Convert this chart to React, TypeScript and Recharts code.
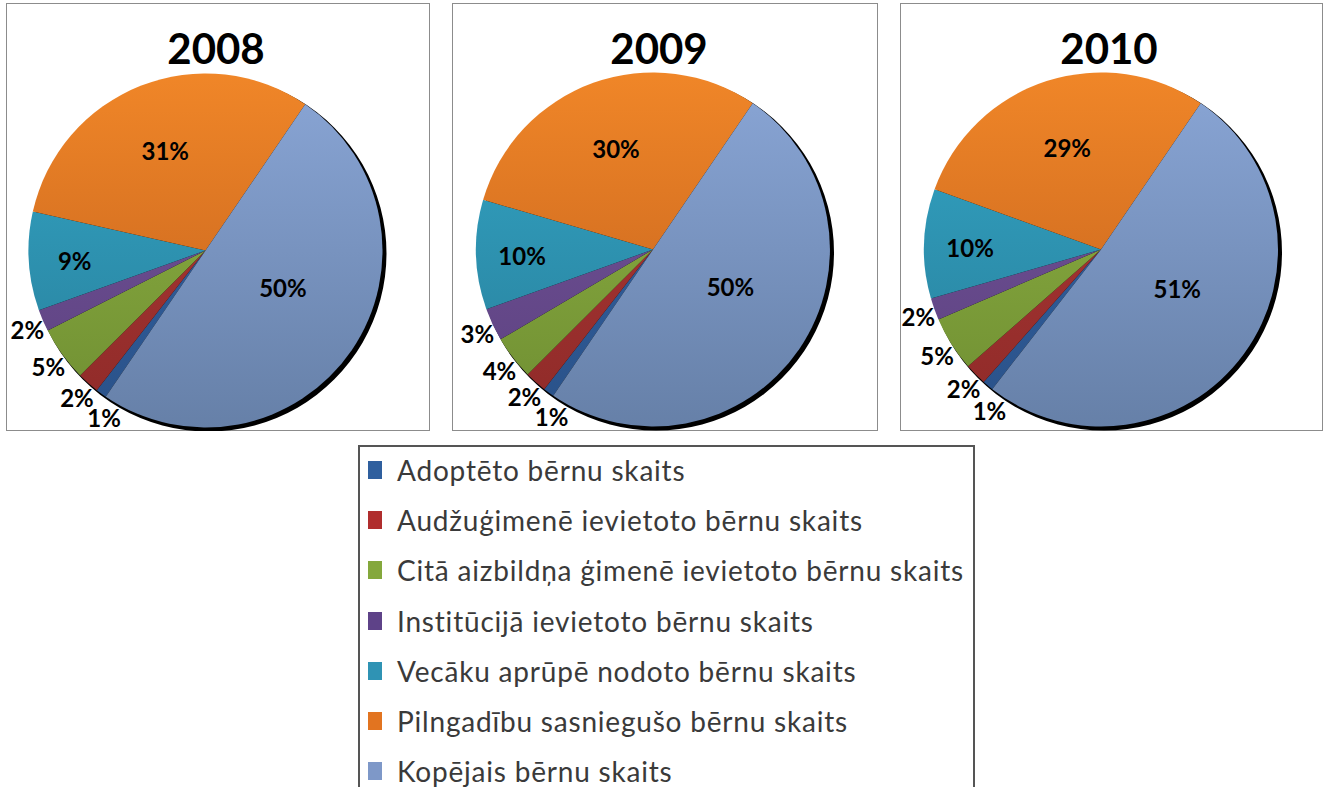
import React from 'react';
import { PieChart, Pie, Cell } from 'recharts';

const categories = [
  'Adoptēto bērnu skaits',
  'Audžuģimenē ievietoto bērnu skaits',
  'Citā aizbildņa ģimenē ievietoto bērnu skaits',
  'Institūcijā ievietoto bērnu skaits',
  'Vecāku aprūpē nodoto bērnu skaits',
  'Pilngadību sasniegušo bērnu skaits',
  'Kopējais bērnu skaits',
];

const years = ['2008', '2009', '2010'];

// percent shares per year, same order as categories
const values2008 = [1, 2, 5, 2, 9, 31, 50];
const values2009 = [1, 2, 4, 3, 10, 30, 50];
const values2010 = [1, 2, 5, 2, 10, 29, 51];

// gradient top / bottom colours (Excel 2007 style)
const topColors = ['#3366a8', '#b23a38', '#90b444', '#74559a', '#33a6c6', '#f08628', '#8aa6d6'];
const bottomColors = ['#2a5188', '#8e2a28', '#6f8e32', '#5c4180', '#287e9a', '#c05f1c', '#6680a8'];
const legendColors = ['#2f5f9e', '#b02e2e', '#84a83c', '#5e4288', '#2f93b4', '#e27420', '#7e98c8'];

const R = 177;
// clockwise angle (from 12 o'clock) where the last slice ends
const BOUNDARY = 34.3;
const OUTSIDE_LIMIT = 0.07;
const MIN_GAP = 10;

const panels = [
  { year: years[0], values: values2008, left: 6, width: 424, cx: 205.5, cy: 250.5, titleX: 215 },
  { year: years[1], values: values2009, left: 452, width: 426, cx: 653, cy: 249.5, titleX: 658 },
  { year: years[2], values: values2010, left: 900, width: 423, cx: 1101, cy: 249.5, titleX: 1108 },
];

const PANEL_TOP = 3;
const PANEL_H = 428;
const RAD = Math.PI / 180;

// small outside labels get spread apart so they don't collide (like Excel does)
const labelShifts = (values: number[]) => {
  const total = values.reduce((s, v) => s + v, 0);
  const shifts = values.map(() => 0);
  let acc = 0;
  const mids = values.map((v) => {
    const m = acc + (v / total) * 180;
    acc += (v / total) * 360;
    return m;
  });
  let next = Infinity;
  for (let i = values.length - 1; i >= 0; i--) {
    const share = values[i] / total;
    if (share >= 0.4) shifts[i] = 10; // big slice label sits a bit higher
    if (share >= OUTSIDE_LIMIT) continue;
    const a = Math.min(mids[i], next - MIN_GAP);
    shifts[i] = mids[i] - a; // degrees moved back (counter-clockwise)
    next = a;
  }
  return shifts;
};

const makeLabel = (shifts: number[]) => (props: any) => {
  const { cx, cy, midAngle, outerRadius, percent, value, index } = props;
  let dist;
  if (percent >= 0.4) dist = outerRadius * 0.48;
  else if (percent >= 0.2) dist = outerRadius * 0.62;
  else if (percent >= OUTSIDE_LIMIT) dist = outerRadius * 0.74;
  else dist = outerRadius + 17;
  const ang = midAngle + (shifts[index] || 0);
  const x = cx + dist * Math.cos(-ang * RAD);
  const y = cy + dist * Math.sin(-ang * RAD) + 2;
  return (
    <text
      x={x}
      y={y}
      textAnchor="middle"
      dominantBaseline="central"
      fill="#000"
      style={{ fontFamily: 'Lato', fontWeight: 700, fontSize: 24 }}
    >
      {`${value}%`}
    </text>
  );
};

const YearPie = ({ panel }: { panel: (typeof panels)[number] }) => {
  const data = categories.map((name, i) => ({ name, value: panel.values[i] }));
  const total = panel.values.reduce((s, v) => s + v, 0);
  const lastShare = panel.values[panel.values.length - 1] / total;
  const startAngle = 90 - (BOUNDARY + lastShare * 360);
  const cx = panel.cx - panel.left;
  const cy = panel.cy - PANEL_TOP;
  const renderLabel = makeLabel(labelShifts(panel.values));
  return (
    <div
      style={{
        position: 'absolute',
        left: panel.left,
        top: PANEL_TOP,
        width: panel.width,
        height: PANEL_H,
        boxSizing: 'border-box',
        border: '1px solid #8c8c8c',
        background: '#fff',
      }}
    >
      <div style={{ position: 'absolute', left: -1, top: -1 }}>
        <PieChart width={panel.width} height={PANEL_H} margin={{ top: 0, right: 0, bottom: 0, left: 0 }}>
          <defs>
            {categories.map((_, i) => (
              <linearGradient
                key={i}
                id={`g${panel.year}-${i}`}
                gradientUnits="userSpaceOnUse"
                x1={0}
                y1={cy - R}
                x2={0}
                y2={cy + R}
              >
                <stop offset="0%" stopColor={topColors[i]} />
                <stop offset="100%" stopColor={bottomColors[i]} />
              </linearGradient>
            ))}
          </defs>
          <Pie
            data={[{ name: 'shadow', value: 1 }]}
            dataKey="value"
            cx={cx + 3}
            cy={cy + 3}
            outerRadius={R + 1}
            fill="#000"
            stroke="none"
            isAnimationActive={false}
          />
          <Pie
            data={data}
            dataKey="value"
            cx={cx}
            cy={cy}
            outerRadius={R}
            startAngle={startAngle}
            endAngle={startAngle - 360}
            stroke="none"
            labelLine={false}
            label={renderLabel}
            isAnimationActive={false}
          >
            {data.map((_, i) => (
              <Cell key={`cell-${i}`} fill={`url(#g${panel.year}-${i})`} />
            ))}
          </Pie>
        </PieChart>
      </div>
      <div
        style={{
          position: 'absolute',
          left: panel.titleX - panel.left - 100,
          top: 20,
          width: 200,
          textAlign: 'center',
          fontFamily: 'Lato',
          fontWeight: 700,
          fontSize: 42,
          lineHeight: '48px',
          color: '#000',
        }}
      >
        {panel.year}
      </div>
    </div>
  );
};

export default function App() {
  return (
    <div style={{ position: 'absolute', left: 0, top: 0, width: 1325, height: 787, background: '#fff', overflow: 'hidden' }}>
      {panels.map((p) => (
        <YearPie key={p.year} panel={p} />
      ))}
      {/* Legenda */}
      <div
        style={{
          position: 'absolute',
          left: 358,
          top: 445,
          width: 617,
          height: 360,
          boxSizing: 'border-box',
          border: '2px solid #555',
        }}
      >
        {categories.map((name, i) => (
          <div
            key={name}
            style={{
              position: 'absolute',
              left: 8,
              top: 23 + i * 50.2 - 20,
              height: 40,
              display: 'flex',
              alignItems: 'center',
              whiteSpace: 'nowrap',
            }}
          >
            <span
              style={{ display: 'inline-block', width: 14, height: 18, backgroundColor: legendColors[i], marginRight: 15 }}
            />
            <span style={{ fontFamily: 'Lato', fontSize: 28, letterSpacing: 0.8, color: '#3a3a3a' }}>{name}</span>
          </div>
        ))}
      </div>
    </div>
  );
}
